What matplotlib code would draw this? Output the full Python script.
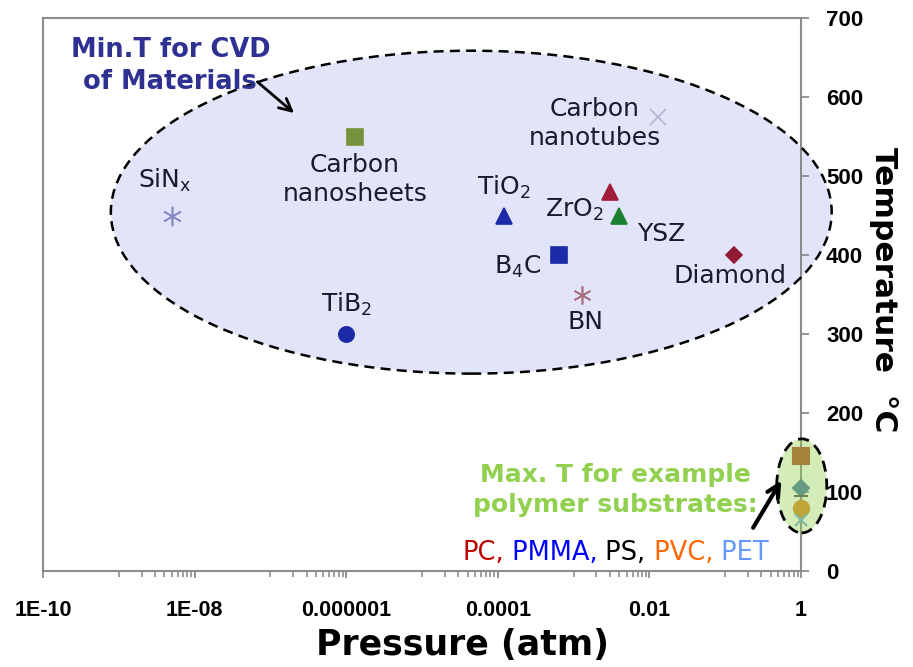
import matplotlib
matplotlib.use('Agg')
import matplotlib.pyplot as plt
import numpy as np
from matplotlib.patches import Ellipse

# CVD minimum temperatures
materials = [r'$\mathregular{SiN_x}$', 'Carbon\nnanosheets', r'$\mathregular{TiB_2}$',
             r'$\mathregular{TiO_2}$', r'$\mathregular{B_4C}$', 'BN',
             r'$\mathregular{ZrO_2}$', 'YSZ', 'Carbon\nnanotubes', 'Diamond']
pressure = [5e-9, 1.3e-6, 1e-6, 1.2e-4, 6.5e-4, 1.3e-3, 3e-3, 4e-3, 1.3e-2, 0.13]
temperature = [450, 550, 300, 450, 400, 350, 480, 450, 575, 400]

# max. temperatures of the polymer substrates, all at 1 atm
polymers = ['PC', 'PMMA', 'PS', 'PVC', 'PET']
poly_pressure = [1, 1, 1, 1, 1]
poly_temperature = [145, 105, 95, 80, 65]

xticks = [1e-10, 1e-8, 1e-6, 1e-4, 1e-2, 1]
xticklabels = ['1E-10', '1E-08', '0.000001', '0.0001', '0.01', '1']
yticks = [0, 100, 200, 300, 400, 500, 600, 700]

# marker styles
mat_markers = [(6, 2, 0), 's', 'o', '^', 's', (6, 2, 0), '^', '^', 'x', 'D']
mat_colors = ['#8a8ac4', '#76923c', '#1c2aa8', '#1c2aa8', '#1c2aa8', '#a87080',
              '#a01c38', '#1a8030', '#b4b4cc', '#921a34']
mat_sizes = [14, 11, 11, 11, 11, 13, 11, 11, 12, 8]
# label offsets from the point, in pixels (dx, dy)
label_off = [(-7, 35), (0, -43), (0, 30), (0, 28), (-42, -12), (3, -27),
             (-35, -18), (42, -18), (-63, -7), (-4, -21)]

poly_markers = ['s', 'D', '_', 'o', 'x']
poly_colors = ['#b0502c', '#4a7aa8', '#555555', '#e08a2a', '#6fa8dc']
poly_sizes = [11, 8, 10, 11, 8]

text_col = '#1a1a2c'

fig = plt.figure(figsize=(9.13, 6.67), dpi=100)
ax = fig.add_axes([0.0471, 0.1439, 0.8302, 0.829])

# shaded ellipses (not clipped, they run past the axis)
big = Ellipse((0.565, 0.649), 0.951, 0.584, transform=ax.transAxes,
              facecolor=(0.55, 0.6, 0.92, 0.25), edgecolor='none',
              clip_on=False, zorder=1)
ax.add_patch(big)
big_edge = Ellipse((0.565, 0.649), 0.951, 0.584, transform=ax.transAxes,
                   facecolor='none', edgecolor='black',
                   linestyle=(0, (4, 2.5)), linewidth=1.8, clip_on=False, zorder=5)
ax.add_patch(big_edge)

for p, t, m, c, s in zip(pressure, temperature, mat_markers, mat_colors, mat_sizes):
    ax.plot(p, t, marker=m, color=c, markersize=s, linestyle='none', mew=1.2, zorder=3)

for p, t, m, c, s in zip(poly_pressure, poly_temperature, poly_markers, poly_colors, poly_sizes):
    ax.plot(p, t, marker=m, color=c, markersize=s, linestyle='none', mew=1.5,
            zorder=3, clip_on=False)

small = Ellipse((1.001, 0.154), 0.066, 0.170, transform=ax.transAxes,
                facecolor=(0.57, 0.82, 0.31, 0.4), edgecolor='black',
                linestyle=(0, (4, 2.5)), linewidth=2, clip_on=False, zorder=5)
ax.add_patch(small)

for name, p, t, off in zip(materials, pressure, temperature, label_off):
    ax.annotate(name, xy=(p, t), xytext=(off[0] * 0.72, off[1] * 0.72),
                textcoords='offset points', ha='center', va='center',
                fontsize=18, color=text_col, linespacing=1.25, zorder=4)

ax.set_xscale('log')
ax.set_xlim(1e-10, 1)
ax.set_ylim(0, 700)
ax.set_xticks(xticks)
ax.set_xticklabels(xticklabels, fontsize=15.5, fontweight='bold',
                   family='Liberation Sans')
minor = [k * 10 ** e for e in range(-9, 0, 2) for k in range(1, 10)]
ax.set_xticks(minor, minor=True)
ax.xaxis.set_minor_formatter(matplotlib.ticker.NullFormatter())
ax.yaxis.tick_right()
ax.set_yticks(yticks)
ax.set_yticklabels([str(v) for v in yticks], fontsize=16, fontweight='bold',
                   family='Liberation Sans')

for spine in ax.spines.values():
    spine.set_color('#8c8c8c')
    spine.set_linewidth(1.5)
ax.tick_params(axis='x', which='major', direction='out', length=5, width=1.3,
               color='#8c8c8c', pad=16)
ax.tick_params(axis='x', which='minor', direction='out', length=4, width=1.2,
               color='#8c8c8c')
ax.tick_params(axis='y', direction='out', length=6, width=1.3, color='#8c8c8c', pad=12)

ax.set_xlabel('Pressure (atm)', fontsize=25, fontweight='bold', family='DejaVu Sans',
              va='center')
ax.xaxis.set_label_coords(0.553, -0.134)
ax.set_ylabel('Temperature  \u00b0C', fontsize=22.5, fontweight='bold',
              family='DejaVu Sans', rotation=-90, va='center')
ax.yaxis.set_label_position('right')
ax.yaxis.set_label_coords(1.128, 0.508)

ax.text(0.168, 0.913, 'Min.T for CVD\nof Materials', transform=ax.transAxes,
        ha='center', va='center', fontsize=18.5, fontweight='bold', color='#2e3192',
        linespacing=1.3, zorder=6)
ax.annotate('', xy=(0.334, 0.825), xytext=(0.280, 0.888), xycoords='axes fraction',
            textcoords='axes fraction',
            arrowprops=dict(arrowstyle='->', color='black', lw=2, mutation_scale=22),
            zorder=6)

ax.text(0.755, 0.146, 'Max. T for example\npolymer substrates:', transform=ax.transAxes,
        ha='center', va='center', fontsize=18, fontweight='bold', color='#92d050',
        linespacing=1.3, zorder=6)
ax.annotate('', xy=(0.976, 0.168), xytext=(0.935, 0.074), xycoords='axes fraction',
            textcoords='axes fraction',
            arrowprops=dict(arrowstyle='->', color='black', lw=3, mutation_scale=22),
            zorder=6, annotation_clip=False)

# multicolour polymer list
pieces = ['PC,', ' PMMA,', ' PS,', ' PVC,', ' PET']
piece_cols = ['#c00000', '#0000ff', '#000000', '#ff6600', '#6699ff']
renderer = fig.canvas.get_renderer()
xpos = 0.553
for s, c in zip(pieces, piece_cols):
    t = ax.text(xpos, 0.02, s, transform=ax.transAxes, ha='left', va='baseline',
                fontsize=18.5, color=c, zorder=6)
    bb = t.get_window_extent(renderer=renderer)
    xpos = ax.transAxes.inverted().transform((bb.x1, bb.y0))[0]

plt.savefig('out.png', dpi=100)
